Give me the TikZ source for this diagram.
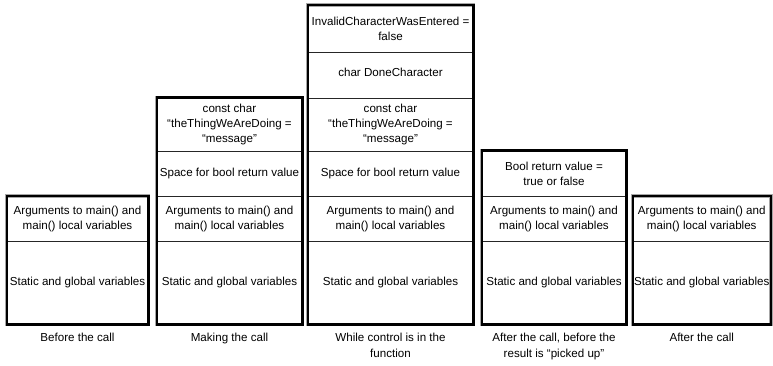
\documentclass[tikz,border=0pt]{standalone}
\usepackage{fontspec}
\setmainfont{Liberation Sans}
\begin{document}
\begin{tikzpicture}[x=1pt,y=-1pt,
  cell/.style={draw=black!85, line width=0.8pt, rectangle, inner sep=0pt,
    align=center, font=\fontsize{11.6}{15.2}\selectfont},
  caption/.style={anchor=north, inner sep=0pt, align=center,
    font=\fontsize{11.6}{16}\selectfont},
  halo/.style={draw=black!35, line width=3.6pt},
  frame/.style={draw=black, line width=2.2pt}]
\useasboundingbox (0,0) rectangle (773,366);

% row boundaries (top to bottom): 5.5, 52.5, 98, 151, 196.5, 241.5, 324
\tikzset{
  rA/.style={minimum height=47pt},
  rB/.style={minimum height=45.5pt},
  rC/.style={minimum height=53pt},
  rD/.style={minimum height=45.5pt},
  rE/.style={minimum height=45pt},
  rF/.style={minimum height=82.5pt},
  w1/.style={minimum width=141pt},
  w2/.style={minimum width=145pt},
  w3/.style={minimum width=165pt},
  w4/.style={minimum width=144pt},
  w5/.style={minimum width=137.5pt}}

% Column 1: before the call
\node[cell,w1,rE] (a5) at (77.5,219) {Arguments to main() and\\main() local variables};
\node[cell,w1,rF] (a6) at (77.5,282.75) {Static and global variables};

% Column 2: making the call
\node[cell,w2,rC] (b3) at (229.5,124.5) {const char\\“theThingWeAreDoing =\\“message”};
\node[cell,w2,rD] (b4) at (229.5,173.75) {Space for bool return value};
\node[cell,w2,rE] (b5) at (229.5,219) {Arguments to main() and\\main() local variables};
\node[cell,w2,rF] (b6) at (229.5,282.75) {Static and global variables};

% Column 3: while control is in the function
\node[cell,w3,rA] (c1) at (390.5,29) {InvalidCharacterWasEntered =\\false};
\node[cell,w3,rB] (c2) at (390.5,75.25) {\raisebox{5pt}{char DoneCharacter}};
\node[cell,w3,rC] (c3) at (390.5,124.5) {const char\\“theThingWeAreDoing =\\“message”};
\node[cell,w3,rD] (c4) at (390.5,173.75) {Space for bool return value};
\node[cell,w3,rE] (c5) at (390.5,219) {Arguments to main() and\\main() local variables};
\node[cell,w3,rF] (c6) at (390.5,282.75) {Static and global variables};

% Column 4: after the call, result not yet used
\node[cell,w4,rD] (d4) at (554,173.75) {Bool return value =\\true or false};
\node[cell,w4,rE] (d5) at (554,219) {Arguments to main() and\\main() local variables};
\node[cell,w4,rF] (d6) at (554,282.75) {Static and global variables};

% Column 5: after the call
\node[cell,w5,rE] (e5) at (701.75,219) {Arguments to main() and\\main() local variables};
\node[cell,w5,rF] (e6) at (701.75,282.75) {Static and global variables};

% heavy outlines around each stack
\foreach \t/\b in {a5/a6,b3/b6,c1/c6,d4/d6,e5/e6}{
  \draw[halo] (\t.north west) rectangle (\b.south east);
  \draw[frame] (\t.north west) rectangle (\b.south east);
}

% captions
\node[caption] (la) at (77.5,333) {Before the call};
\node[caption] (lb) at (229.5,333) {Making the call};
\node[caption] (lc) at (390.5,333) {While control is in the\\function};
\node[caption] (ld) at (554,333) {After the call, before the\\result is “picked up”};
\node[caption] (le) at (701.75,333) {After the call};
\end{tikzpicture}
\end{document}
